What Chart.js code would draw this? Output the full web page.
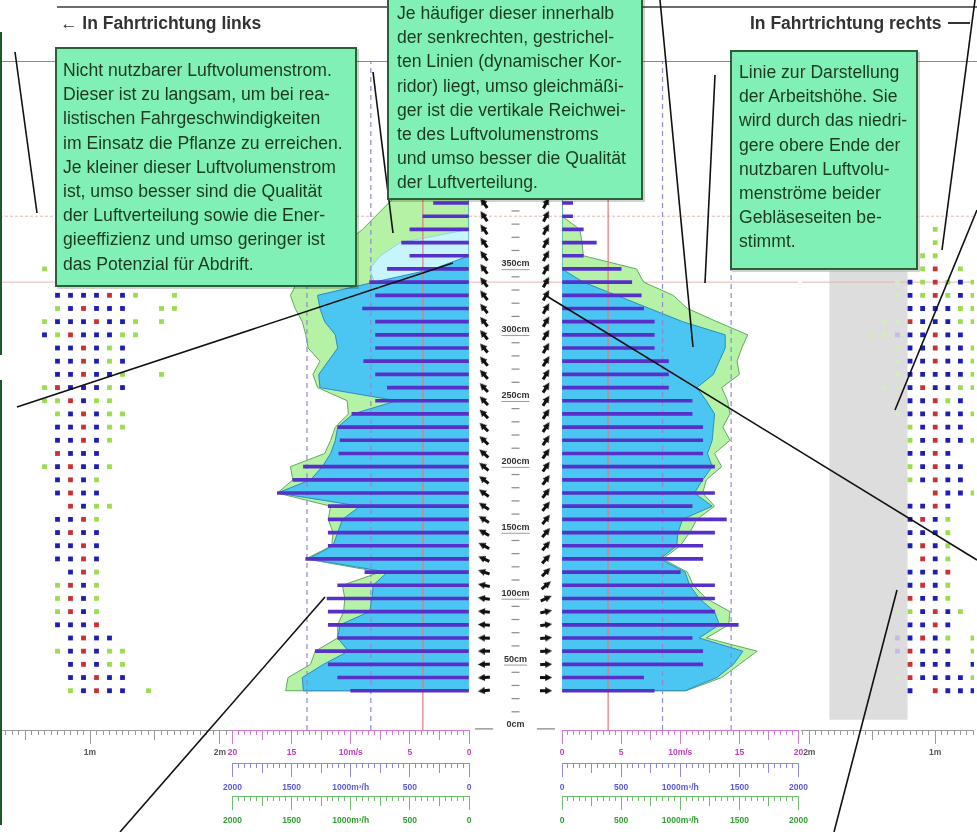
<!DOCTYPE html>
<html lang="de">
<head>
<meta charset="utf-8">
<title>Luftverteilung – vertikales Profil</title>
<script src="https://cdn.jsdelivr.net/npm/chart.js@4.4.1/dist/chart.umd.min.js"></script>
<style>
html,body{margin:0;padding:0;background:#fff;}
body{width:977px;height:832px;position:relative;overflow:hidden;font-family:"Liberation Sans",Arial,sans-serif;}
.chartbox{position:absolute;}
.hline{position:absolute;}
.note{position:absolute;box-sizing:border-box;background:#80F0B6;border:2px solid #2B5F35;color:#1B3A1F;font-size:17.6px;line-height:24.2px;white-space:nowrap;box-shadow:2px 2px 0 rgba(0,0,0,0.18);}
.hdr{position:absolute;font-weight:bold;font-size:17.5px;line-height:20px;color:#333;white-space:nowrap;}
svg.leaders{position:absolute;left:0;top:0;}
</style>
</head>
<body>
<div class="chartbox" style="left:0;top:62px;width:232px;height:770px"><canvas id="dotsL"></canvas></div>
<div class="chartbox" style="left:217px;top:62px;width:267px;height:770px"><canvas id="profL"></canvas></div>
<div class="chartbox" style="left:469px;top:62px;width:93px;height:668px"><canvas id="center"></canvas></div>
<div class="chartbox" style="left:547px;top:62px;width:267px;height:770px"><canvas id="profR"></canvas></div>
<div class="chartbox" style="left:799px;top:62px;width:178px;height:770px"><canvas id="dotsR"></canvas></div>

<div class="hline" style="left:57px;top:6px;width:920px;height:2px;background:#6b6b6b"></div>
<div class="hline" style="left:0;top:61px;width:977px;height:1px;background:#8a8a8a"></div>
<div class="hline" style="left:0;top:32px;width:2px;height:323px;background:#1d5a2a"></div>
<div class="hline" style="left:0;top:380px;width:2px;height:445px;background:#1d5a2a"></div>

<svg class="leaders" width="977" height="832">
 <g stroke="#111" stroke-width="1.6" fill="none">
  <line x1="15" y1="52" x2="37" y2="213"/>
  <line x1="373" y1="72" x2="393" y2="233"/>
  <line x1="17" y1="407" x2="453" y2="263"/>
  <line x1="120" y1="832" x2="325" y2="597"/>
  <line x1="660" y1="0" x2="693" y2="347"/>
  <line x1="715" y1="75" x2="705" y2="283"/>
  <line x1="975" y1="0" x2="942" y2="250"/>
  <line x1="977" y1="210" x2="895" y2="410"/>
  <line x1="545" y1="295" x2="977" y2="560"/>
  <line x1="834" y1="832" x2="897" y2="590"/>
 </g>
</svg>

<div class="hdr" style="left:60px;top:13px">← In Fahrtrichtung links</div>
<div class="hdr" style="left:750px;top:13px">In Fahrtrichtung rechts</div>
<div class="hline" style="left:948px;top:22px;width:22px;height:2px;background:#333"></div>

<div class="note" style="left:55px;top:47px;width:302px;height:240px;padding:9px 0 0 6px">Nicht nutzbarer Luftvolumenstrom.<br>Dieser ist zu langsam, um bei rea-<br>listischen Fahrgeschwindigkeiten<br>im Einsatz die Pflanze zu erreichen.<br>Je kleiner dieser Luftvolumenstrom<br>ist, umso besser sind die Qualität<br>der Luftverteilung sowie die Ener-<br>gieeffizienz und umso geringer ist<br>das Potenzial für Abdrift.</div>
<div class="note" style="left:387px;top:-5px;width:256px;height:205px;padding:4px 0 0 8px">Je häufiger dieser innerhalb<br>der senkrechten, gestrichel-<br>ten Linien (dynamischer Kor-<br>ridor) liegt, umso gleichmäßi-<br>ger ist die vertikale Reichwei-<br>te des Luftvolumenstroms<br>und umso besser die Qualität<br>der Luftverteilung.</div>
<div class="note" style="left:730px;top:50px;width:188px;height:220px;padding:8px 0 0 7px">Linie zur Darstellung<br>der Arbeitshöhe. Sie<br>wird durch das niedri-<br>gere obere Ende der<br>nutzbaren Luftvolu-<br>menströme beider<br>Gebläseseiten be-<br>stimmt.</div>

<script>
// ================= DATA =================
// measurement rows (height above ground, cm), bottom to top
const rowHeights = [26,36,46,56,66,76,86,96,106,116,126,136,146,156,166,176,186,196,206,216,226,236,246,256,266,276,286,296,306,316,326,336,346,356,366,376,386,396];
const capHeight = 402; // top closing edge of the profile areas

// left blower side (m/s)
const barL   = [10.0,11.1,11.9,13.0,11.1,11.9,11.9,12.0,11.1,8.8,13.8,11.9,11.9,11.9,11.9,16.2,14.9,14.0,11.0,10.9,11.1,9.9,7.9,6.9,7.9,8.9,7.9,7.9,7.9,9.0,7.9,8.4,6.9,5.0,5.7,5.0,3.9,3.0];
const blueL  = [14.0,14.1,12.3,10.2,11.1,10.9,8.4,8.2,8.1,6.9,13.6,11.5,11.1,10.7,9.2,16.2,13.4,12.4,11.7,11.3,11.1,9.8,6.1,12.6,12.7,11.9,11.1,11.3,12.2,12.6,12.8,8.0,3.0,0,0,0,0,0,0];
const lightBlueL = [14.0,14.1,12.3,10.2,11.1,10.9,8.4,8.2,8.1,6.9,13.6,11.5,11.1,10.7,9.2,16.2,13.4,12.4,11.7,11.3,11.1,9.8,6.1,12.6,12.7,11.9,11.1,11.3,12.2,12.6,12.8,8.0,8.4,7.5,5.8,0,0,0,0];
const greenL = [15.5,15.3,13.4,13.0,11.1,11.1,10.6,10.5,10.7,7.5,13.8,11.6,11.5,11.9,11.7,16.2,14.9,15.1,12.2,11.7,11.3,10.2,10.3,12.8,13.2,12.6,13.6,13.8,14.1,14.7,15.1,14.5,13.2,11.9,10.4,9.0,7.9,6.8,6.0];
// right blower side (m/s)
const barR   = [7.8,6.9,11.9,11.9,11.0,14.9,12.9,12.9,12.9,10.0,11.9,11.9,12.9,13.9,11.0,12.9,11.9,12.9,11.9,11.9,11.9,11.0,11.0,9.0,9.0,9.0,7.8,7.8,7.8,6.9,6.7,5.9,5.0,1.8,2.9,1.8,0.9,0.9];
const blueR  = [10.4,13.1,14.5,15.3,11.6,13.3,12.9,11.6,10.8,10.4,8.3,9.7,9.8,10.2,12.7,11.2,11.9,12.7,12.3,12.7,12.8,12.9,12.2,11.4,12.8,13.3,13.8,13.8,10.2,7.4,4.6,1.8,0,0,0,0,0,0,0];
const greenR = [10.5,13.5,15.0,16.5,12.2,14.1,14.2,12.2,11.1,10.6,8.5,10.0,10.8,11.4,12.9,11.9,12.2,13.5,12.9,14.2,13.6,14.2,14.0,13.5,15.0,14.8,15.2,15.7,13.1,10.6,9.4,6.9,6.3,1.8,1.7,1.5,0,0,0];

// air-jet direction (degrees above horizontal) per row
const angleL = [-6,-4,-2,0,2,4,6,8,12,18,24,28,30,32,34,36,38,40,42,44,45,46,47,48,49,50,50,51,52,52,53,53,54,54,55,55,56,56];
const angleR = [0,0,2,3,5,8,12,25,40,45,48,50,50,52,52,53,54,55,55,56,56,57,57,58,58,58,59,59,60,60,60,61,61,62,62,62,63,63];

// reference lines
const minSpeedL = 3.9, minSpeedR = 3.9;        // m/s
const corridorL = [8.3, 13.7];                  // dynamic corridor, m/s
const corridorR = [8.5, 14.3];
const workHeight = 336;                          // cm, working height line
const canopyTop = 386;                           // cm

// axis ticks / labels
const speedTicks = [0,5,10,15,20];
const speedLabels = ['0','5','10m/s','15','20'];
const flowTicks = [0,500,1000,1500,2000];
const flowLabels = ['0','500','1000m³/h','1500','2000'];
const rulerTicks = [1,2];
const rulerLabels = ['1m','2m'];
const cmTicks = [0,50,100,150,200,250,300,350];
const cmTickLabels = ['0cm','50cm','100cm','150cm','200cm','250cm','300cm','350cm'];

// canopy sample grid (B blue, R red, G green, g faint green, p faint purple), rows bottom->top
const leftDotCols = [0.65,0.75,0.85,0.95,1.05,1.15,1.25,1.35,1.45,1.55,1.65];
const leftDotPattern = [
 "..GBRBB.G..","..BBRBB....","..BRBGG....",".GBRBGG....","..BRBB.....",".BBBR......",
 ".GRBG......",".GRBG......",".GRBG......","..BRG......",".BBRB......",".BBRB......",
 ".BRBB......",".BBRG......","..RBGG.....",".BRBB......",".BRBG......","GBRBBG.....",
 ".RBBB......",".BBRBG.....",".BBRBGG....",".GBRBGG....","GGRBGG.....","GRBBBGB....",
 ".BBRBBG..G.",".BBRBGB....",".BBRBGB....","BGRBBBGG...","GBBBRBBG.G.",".GBRBBB..GG",
 ".BBBBRBG..G","...........","G.........."];
const rightDotCols = [1.5,1.4,1.3,1.2,1.1,1.0,0.9,0.8,0.7];
const rightDotPattern = [
 "...B.RBBB","..gRBBBBG","...RBBB.B","..pRBBB.G","..pBRBG.G","...BBRB..",
 "..gGBRBG.","...RBBG..","...BRBG..","...BBBR..","....RBG..","...BRBG..",
 "...BBBG..","...BRBG..","...BBRB..",".....RBBG","...GBRBB.","...GBRBB.",
 "...BBRB..","...GBRBBG","...GBRBB.","..gBBRBBG","...BBRGB.",".ggBRBBGG",
 "..gBBBBBG","..gBBRBBG","..gBBRBBG","ggpBBRBB.",".ggRBBBGG","...BBBBGG",
 "..gBGRGBG","..gBGRGBG","....GR.G.","....GG...",".....G...",".....G..."];
const grayZoneM = [1.22, 1.84];   // m
const grayZoneH = [4, 344];       // cm

// ================= STYLE / LAYOUT =================
const Y_MIN = -3.8, Y_MAX = 503;
const GREEN_FILL='#B6F2A6', GREEN_LINE='#62A862';
const BLUE_FILL='#4BC5F2', BLUE_LINE='#2C8FB8';
const LBLUE_FILL='#C6F4FF';
const BAR_COL='#5630C8';
const RED_COL='#E27A7A', DASH_COL='#9088D0', HL_COL='#E2B8AE';
const DOT_COL = {B:'#1E1EB4', R:'#C83232', G:'#9BDC50', g:'#D3EBBE', p:'#C3BDE6'};

Chart.defaults.animation = false;
Chart.defaults.responsive = true;
Chart.defaults.maintainAspectRatio = false;
Chart.defaults.events = [];
Chart.defaults.font.family = '"Liberation Sans", Arial, sans-serif';
Chart.defaults.plugins.legend.display = false;
Chart.defaults.plugins.tooltip.enabled = false;

const near = (v, step) => Math.abs(v/step - Math.round(v/step)) < 1e-6;
function dashFor(major, mid){
  return c => {
    const v = c.tick ? c.tick.value : 0;
    if (near(v, major)) return [];
    if (mid && near(v, mid)) return [9, 400];
    return [4, 400];
  };
}
function bottomAxis(o){
  return {
    type:'linear', axis:'x', position:'bottom', min:o.min, max:o.max, reverse:!!o.reverse, weight:o.weight, offset:false,
    afterFit: s => { s.height = o.height; },
    border:{display:true, color:o.color, width:1},
    grid:{offset:false, drawOnChartArea:false, drawTicks:true, tickLength:14, tickColor:o.color, tickWidth:1, tickBorderDash:dashFor(o.major, o.mid)},
    ticks:{stepSize:o.step, autoSkip:false, includeBounds:false, maxRotation:0, minRotation:0, padding:o.padding || 4,
      color:o.labelColor, font:{size:8.5, weight:'bold'},
      callback: v => { const i = o.at.findIndex(t => Math.abs(t - v) < 1e-6); return i < 0 ? '' : o.labels[i]; }}
  };
}
const yScale = () => ({type:'linear', min:Y_MIN, max:Y_MAX, display:false, offset:false, grid:{offset:false}});
const areaHeights = [...rowHeights, capHeight];
const polygon = (vals, hs) => [{x:0, y:hs[0]}, ...vals.map((v,i) => ({x:v, y:hs[i]})), {x:0, y:hs[hs.length-1]}];
const hLine = (h, x0, x1, dash, order) => ({type:'line', data:[{x:x0,y:h},{x:x1,y:h}], borderColor:HL_COL, borderWidth:1, borderDash:dash, pointRadius:0, order});
const vLine = (v, color, dash, order) => ({type:'line', data:[{x:v,y:Y_MIN},{x:v,y:Y_MAX}], borderColor:color, borderWidth:1.2, borderDash:dash, pointRadius:0, order});
const area = (vals, fillCol, lineCol, order) => ({type:'line', data:polygon(vals, areaHeights), fill:'shape', backgroundColor:fillCol, borderColor:lineCol, borderWidth:1, pointRadius:0, tension:0, order});

function profileChart(id, o){
  const ds = [
    {type:'bar', indexAxis:'y', data:rowHeights.map((h,i) => ({x:o.bars[i], y:h})), backgroundColor:BAR_COL, barThickness:3, borderWidth:0, order:0},
    vLine(o.minSpeed, RED_COL, [], 1),
    vLine(o.corridor[0], DASH_COL, [5,4], 1),
    vLine(o.corridor[1], DASH_COL, [5,4], 1),
    area(o.blue, BLUE_FILL, BLUE_LINE, 3),
  ];
  if (o.lightBlue) ds.push(area(o.lightBlue, LBLUE_FILL, '#8FD6EA', 4));
  ds.push(area(o.green, GREEN_FILL, GREEN_LINE, 5));
  ds.push(hLine(canopyTop, 0, 20, [3,2], 6), hLine(workHeight, 0, 20, [], 6));
  return new Chart(document.getElementById(id), {
    type:'scatter',
    data:{datasets:ds},
    options:{
      layout:{padding:{left:15, right:15, top:0, bottom:3}, autoPadding:false},
      scales:{
        x: bottomAxis({min:0, max:20, reverse:o.reverse, weight:0, height:33, step:0.5, major:5, mid:2.5, at:speedTicks, labels:speedLabels, color:'#D27AD2', labelColor:'#C23FB8'}),
        xFlowA: bottomAxis({min:0, max:2000, reverse:o.reverse, weight:1, height:33, step:50, major:500, mid:250, at:flowTicks, labels:flowLabels, color:'#8C8CE6', labelColor:'#5A5AD8', padding:6}),
        xFlowB: bottomAxis({min:0, max:2000, reverse:o.reverse, weight:2, height:33, step:50, major:500, mid:250, at:flowTicks, labels:flowLabels, color:'#6CC06C', labelColor:'#2E9E2E', padding:6}),
        y: yScale()
      }
    }
  });
}

function dotPoints(pattern, cols, code){
  const pts = [];
  pattern.forEach((row, k) => { [...row].forEach((ch, c) => { if (ch === code) pts.push({x:cols[c], y:rowHeights[k]}); }); });
  return pts;
}
function dotsChart(id, o){
  const ds = ['B','R','G','g','p'].map(code => ({
    type:'scatter', data:dotPoints(o.pattern, o.cols, code), pointStyle:'rect', pointRadius:3.4,
    pointBackgroundColor:DOT_COL[code], pointBorderWidth:0, order:0}));
  ds.push(hLine(canopyTop, o.min, o.max, [3,2], 4), hLine(workHeight, o.min, o.max, [], 4));
  if (o.gray) ds.push({type:'line', data:[{x:o.gray[0],y:grayZoneH[0]},{x:o.gray[1],y:grayZoneH[0]},{x:o.gray[1],y:grayZoneH[1]},{x:o.gray[0],y:grayZoneH[1]}],
    fill:'shape', backgroundColor:'#DDDDDD', borderColor:'rgba(0,0,0,0)', borderWidth:0, pointRadius:0, order:5});
  return new Chart(document.getElementById(id), {
    type:'scatter',
    data:{datasets:ds},
    options:{
      layout:{padding:0, autoPadding:false},
      scales:{
        x: bottomAxis({min:o.min, max:o.max, reverse:o.reverse, weight:0, height:102, step:0.05, major:1, mid:0.5, at:rulerTicks, labels:rulerLabels, color:'#9a9a9a', labelColor:'#555'}),
        y: yScale()
      }
    }
  });
}

// arrow glyph used as point style
function makeArrow(){
  const c = document.createElement('canvas'); c.width = 12; c.height = 7;
  const g = c.getContext('2d'); g.fillStyle = '#111';
  g.fillRect(0, 2, 7, 3);
  g.beginPath(); g.moveTo(5, 0); g.lineTo(12, 3.5); g.lineTo(5, 7); g.closePath(); g.fill();
  return c;
}
const arrowImg = makeArrow();

const centerMarks = {
  id:'centerMarks',
  afterDatasetsDraw(chart){
    const {ctx, scales:{x, y}} = chart;
    const cx = x.getPixelForValue(0.5);
    ctx.save();
    ctx.strokeStyle = '#8a8a8a'; ctx.lineWidth = 1.2;
    for (let h = 10; h <= 390; h += 10) {
      if (cmTicks.includes(h)) continue;
      const py = y.getPixelForValue(h);
      ctx.beginPath(); ctx.moveTo(cx - 4, py); ctx.lineTo(cx + 4, py); ctx.stroke();
    }
    ctx.font = 'bold 9px "Liberation Sans", Arial, sans-serif';
    ctx.fillStyle = '#333'; ctx.textAlign = 'center'; ctx.textBaseline = 'middle';
    cmTicks.forEach((h, i) => {
      const py = y.getPixelForValue(h);
      const t = cmTickLabels[i];
      ctx.fillText(t, cx, py);
      const w = ctx.measureText(t).width;
      ctx.strokeStyle = '#9a9a9a'; ctx.lineWidth = 1;
      ctx.beginPath(); ctx.moveTo(cx - w/2, py + 6); ctx.lineTo(cx + w/2, py + 6); ctx.stroke();
    });
    const gy = y.getPixelForValue(-3);
    ctx.strokeStyle = '#888'; ctx.lineWidth = 1.2;
    ctx.beginPath();
    ctx.moveTo(x.getPixelForValue(0.065), gy); ctx.lineTo(x.getPixelForValue(0.26), gy);
    ctx.moveTo(x.getPixelForValue(0.73), gy); ctx.lineTo(x.getPixelForValue(0.925), gy);
    ctx.stroke();
    ctx.restore();
  }
};

// ================= CHARTS =================
dotsChart('dotsL', {pattern:leftDotPattern, cols:leftDotCols, min:0.30769, max:2.09231, reverse:false});
profileChart('profL', {reverse:true, bars:barL, blue:blueL, lightBlue:lightBlueL, green:greenL, minSpeed:minSpeedL, corridor:corridorL});
profileChart('profR', {reverse:false, bars:barR, blue:blueR, green:greenR, minSpeed:minSpeedR, corridor:corridorR});
dotsChart('dotsR', {pattern:rightDotPattern, cols:rightDotCols, min:0.69231, max:2.06154, reverse:true, gray:grayZoneM});

new Chart(document.getElementById('center'), {
  type:'scatter',
  data:{datasets:[
    {data:rowHeights.map(h => ({x:0.16, y:h})), pointStyle:arrowImg, pointRadius:5, pointRotation:c => 180 + angleL[c.dataIndex], order:0},
    {data:rowHeights.map(h => ({x:0.83, y:h})), pointStyle:arrowImg, pointRadius:5, pointRotation:c => -angleR[c.dataIndex], order:0},
    hLine(canopyTop, 0, 1, [3,2], 2), hLine(workHeight, 0, 1, [], 2)
  ]},
  options:{
    layout:{padding:0, autoPadding:false},
    scales:{x:{type:'linear', min:0, max:1, display:false}, y:yScale()}
  },
  plugins:[centerMarks]
});
</script>
</body>
</html>
